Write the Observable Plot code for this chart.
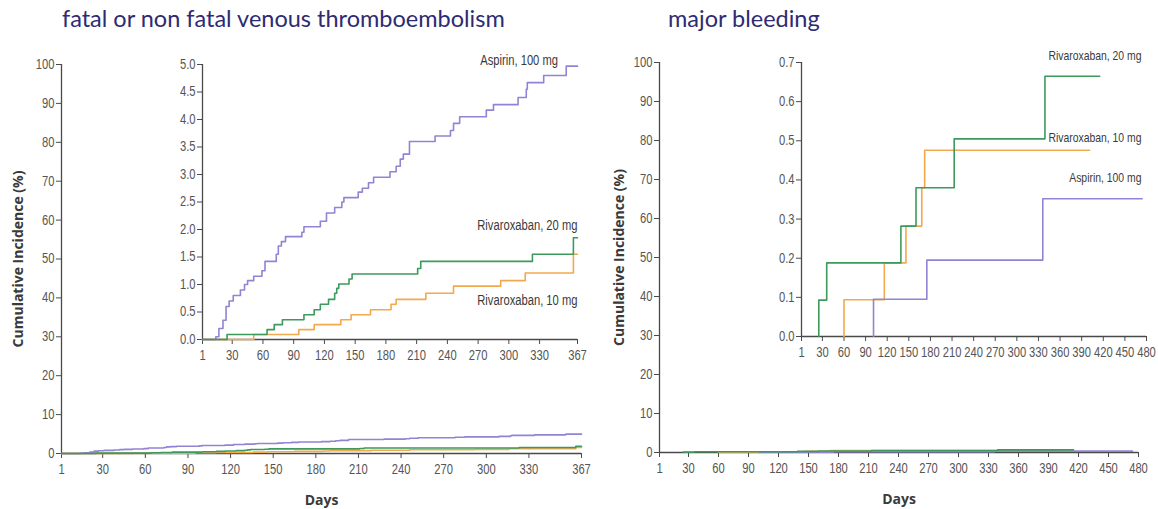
<!DOCTYPE html>
<html><head><meta charset="utf-8">
<script src="https://cdn.jsdelivr.net/npm/d3@7"></script>
<script src="https://cdn.jsdelivr.net/npm/@observablehq/plot@0.6"></script>
<style>
body{margin:0;background:#fff;}
#wrap{position:relative;width:1158px;height:509px;overflow:hidden;background:#fff;}
.pane{position:absolute;}
.title{position:absolute;font-family:Lato,"Open Sans",sans-serif;font-size:23.5px;color:#2d2b72;white-space:nowrap;}
</style></head><body>
<div id="wrap">
  <div class="pane" id="vteMain" style="left:0px;top:0px"></div>
  <div class="pane" id="vteInset" style="left:160px;top:40px"></div>
  <div class="pane" id="bleedMain" style="left:600px;top:0px"></div>
  <div class="pane" id="bleedInset" style="left:760px;top:40px"></div>
  <div class="title" style="left:62px;top:4px">fatal or non fatal venous thromboembolism</div>
  <div class="title" style="left:668px;top:4px">major bleeding</div>
</div>
<script>
// ---------- data ----------
const seriesNames = ["Rivaroxaban, 10 mg", "Aspirin, 100 mg", "Rivaroxaban, 20 mg"];
const seriesColors = ["#f2a94e", "#9283d4", "#3d9a5c"];

// Venous thromboembolism (days, cumulative incidence %)
const vteAspirinDays = [1, 14, 17, 21, 24, 27, 31, 38, 42, 45, 51, 59, 62, 73, 75, 78, 82, 98, 100, 116, 122, 130, 137, 139, 153, 157, 163, 168, 184, 190, 194, 197, 203, 228, 243, 246, 252, 278, 285, 309, 317, 318, 334, 356, 367];
const vteAspirinInc = [0, 0.05, 0.2, 0.35, 0.6, 0.7, 0.8, 0.9, 1.0, 1.07, 1.15, 1.25, 1.42, 1.55, 1.7, 1.78, 1.87, 1.95, 2.05, 2.15, 2.3, 2.4, 2.5, 2.58, 2.68, 2.75, 2.85, 2.95, 3.05, 3.15, 3.28, 3.37, 3.6, 3.7, 3.8, 3.93, 4.05, 4.17, 4.27, 4.4, 4.55, 4.67, 4.8, 4.97, 4.97];
const vteRiva20Days = [1, 25, 64, 71, 79, 100, 110, 116, 124, 130, 132, 134, 144, 147, 211, 214, 323, 363, 367];
const vteRiva20Inc = [0, 0.09, 0.18, 0.27, 0.36, 0.45, 0.54, 0.64, 0.73, 0.84, 0.93, 1.01, 1.10, 1.19, 1.29, 1.42, 1.55, 1.85, 1.85];
const vteRiva10Days = [1, 51, 95, 110, 136, 146, 165, 185, 190, 219, 246, 292, 316, 363, 367];
const vteRiva10Inc = [0, 0.09, 0.18, 0.27, 0.36, 0.45, 0.54, 0.64, 0.73, 0.84, 0.97, 1.07, 1.21, 1.55, 1.55];

// Major bleeding
const bleedRiva20Days = [25, 25, 36, 139, 160, 213, 339, 415];
const bleedRiva20Inc = [0, 0.093, 0.188, 0.282, 0.38, 0.505, 0.665, 0.665];
const bleedRiva10Days = [60, 60, 116, 146, 168, 172, 401];
const bleedRiva10Inc = [0, 0.094, 0.188, 0.282, 0.38, 0.476, 0.476];
const bleedAspirinDays = [101, 101, 175, 336, 474];
const bleedAspirinInc = [0, 0.095, 0.195, 0.352, 0.352];

// ticks
const vteDayTicks = [1, 30, 60, 90, 120, 150, 180, 210, 240, 270, 300, 330, 367];
const bleedDayTicks = [1, 30, 60, 90, 120, 150, 180, 210, 240, 270, 300, 330, 360, 390, 420, 450, 480];
const mainIncTicks = [0, 10, 20, 30, 40, 50, 60, 70, 80, 90, 100];
const vteInsetTicks = [0, 0.5, 1.0, 1.5, 2.0, 2.5, 3.0, 3.5, 4.0, 4.5, 5.0];
const bleedInsetTicks = [0, 0.1, 0.2, 0.3, 0.4, 0.5, 0.6, 0.7];

// inset labels (series name, day of right end, level)
const vteLabelNames = ["Aspirin, 100 mg", "Rivaroxaban, 20 mg", "Rivaroxaban, 10 mg"];
const vteLabelDays = [348, 367, 367];
const vteLabelInc = [5.07, 2.07, 0.71];
const bleedLabelNames = ["Rivaroxaban, 20 mg", "Rivaroxaban, 10 mg", "Aspirin, 100 mg"];
const bleedLabelDays = [473, 473, 473];
const bleedLabelInc = [0.718, 0.508, 0.406];

// ---------- build ----------
const toRows = (name, days, inc) => days.map((d, i) => ({series: name, day: d, inc: inc[i]}));
const vteRows = [
  ...toRows("Rivaroxaban, 10 mg", vteRiva10Days, vteRiva10Inc),
  ...toRows("Aspirin, 100 mg", vteAspirinDays, vteAspirinInc),
  ...toRows("Rivaroxaban, 20 mg", vteRiva20Days, vteRiva20Inc)
];
const bleedRows = [
  ...toRows("Rivaroxaban, 10 mg", bleedRiva10Days, bleedRiva10Inc),
  ...toRows("Aspirin, 100 mg", bleedAspirinDays, bleedAspirinInc),
  ...toRows("Rivaroxaban, 20 mg", bleedRiva20Days, bleedRiva20Inc)
];
const labelRows = (names, days, inc) => names.map((n, i) => ({name: n, day: days[i], inc: inc[i]}));

const NARROW = '"Liberation Sans", Arial, sans-serif';
const BOLD = '"Open Sans", "DejaVu Sans", sans-serif';
const AX = "#4a4a4a";
const SQUEEZE = 0.8;

// horizontally condense the non-bold texts (after layout) to imitate a narrow typeface
function condense(svg, k) {
  svg.querySelectorAll("text").forEach(t => {
    if (t.closest('[font-weight="bold"]')) return;
    const len = t.getComputedTextLength();
    if (len > 0) {
      t.setAttribute("textLength", (len * k).toFixed(2));
      t.setAttribute("lengthAdjust", "spacingAndGlyphs");
    }
  });
}

function panel(o) {
  const marks = [
    Plot.axisY({ticks: o.yTicks, tickSize: 5, tickPadding: 2, tickFormat: o.yFmt, label: null,
      stroke: AX, color: "#555", fontSize: 14}),
    Plot.axisX({ticks: o.xTicks, tickSize: 5, tickPadding: 6, tickFormat: d => String(d), label: null,
      stroke: AX, color: "#555", fontSize: 14}),
    Plot.ruleX([o.xDomain[0]], {stroke: AX, strokeWidth: 1.3}),
    Plot.ruleY([0], {stroke: AX, strokeWidth: 1.3}),
    Plot.line(o.data, {x: "day", y: "inc", z: "series", stroke: "series", curve: "step-after", strokeWidth: 1.6})
  ];
  if (o.labels) {
    marks.push(Plot.text(o.labels, {x: "day", y: "inc", text: "name", textAnchor: "end",
      fontFamily: NARROW, fontSize: o.labelSize, fill: "#3a3a3a"}));
  }
  if (o.main) {
    marks.push(Plot.text(["Days"], {frameAnchor: "bottom", dy: 47, lineAnchor: "middle",
      fontFamily: BOLD, fontWeight: "bold", fontSize: 14, fill: "#3a3a3a"}));
    marks.push(Plot.text(["Cumulative Incidence (%)"], {frameAnchor: "left", dx: o.yLabelDx, rotate: -90,
      textAnchor: "middle", lineAnchor: "middle",
      fontFamily: BOLD, fontWeight: "bold", fontSize: 14, fill: "#3a3a3a"}));
  }
  const svg = Plot.plot({
    width: o.width, height: o.height,
    marginLeft: o.ml, marginRight: o.mr, marginTop: o.mt, marginBottom: o.mb,
    style: {background: "transparent", fontFamily: NARROW, overflow: "visible"},
    x: {domain: o.xDomain},
    y: {domain: o.yDomain},
    color: {domain: seriesNames, range: seriesColors},
    marks
  });
  document.getElementById(o.target).append(svg);
  condense(svg, SQUEEZE);
}

panel({
  target: "vteMain",
  width: 590, height: 509, ml: 61, mr: 9, mt: 64, mb: 56,
  xDomain: [1, 367], xTicks: vteDayTicks, yDomain: [0, 100], yTicks: mainIncTicks,
  yFmt: d => String(d), data: vteRows, main: true, yLabelDx: -43
});
panel({
  target: "vteInset",
  width: 430, height: 330, ml: 42, mr: 13, mt: 24, mb: 31,
  xDomain: [1, 367], xTicks: vteDayTicks, yDomain: [0, 5], yTicks: vteInsetTicks,
  yFmt: d3.format(".1f"), data: vteRows, labelSize: 14,
  labels: labelRows(vteLabelNames, vteLabelDays, vteLabelInc)
});
panel({
  target: "bleedMain",
  width: 558, height: 509, ml: 59, mr: 20, mt: 62, mb: 57,
  xDomain: [1, 480], xTicks: bleedDayTicks, yDomain: [0, 100], yTicks: mainIncTicks,
  yFmt: d => String(d), data: bleedRows, main: true, yLabelDx: -40
});
panel({
  target: "bleedInset",
  width: 398, height: 330, ml: 41, mr: 12, mt: 22, mb: 34,
  xDomain: [1, 480], xTicks: bleedDayTicks, yDomain: [0, 0.7], yTicks: bleedInsetTicks,
  yFmt: d3.format(".1f"), data: bleedRows, labelSize: 13,
  labels: labelRows(bleedLabelNames, bleedLabelDays, bleedLabelInc)
});
</script>
</body></html>
